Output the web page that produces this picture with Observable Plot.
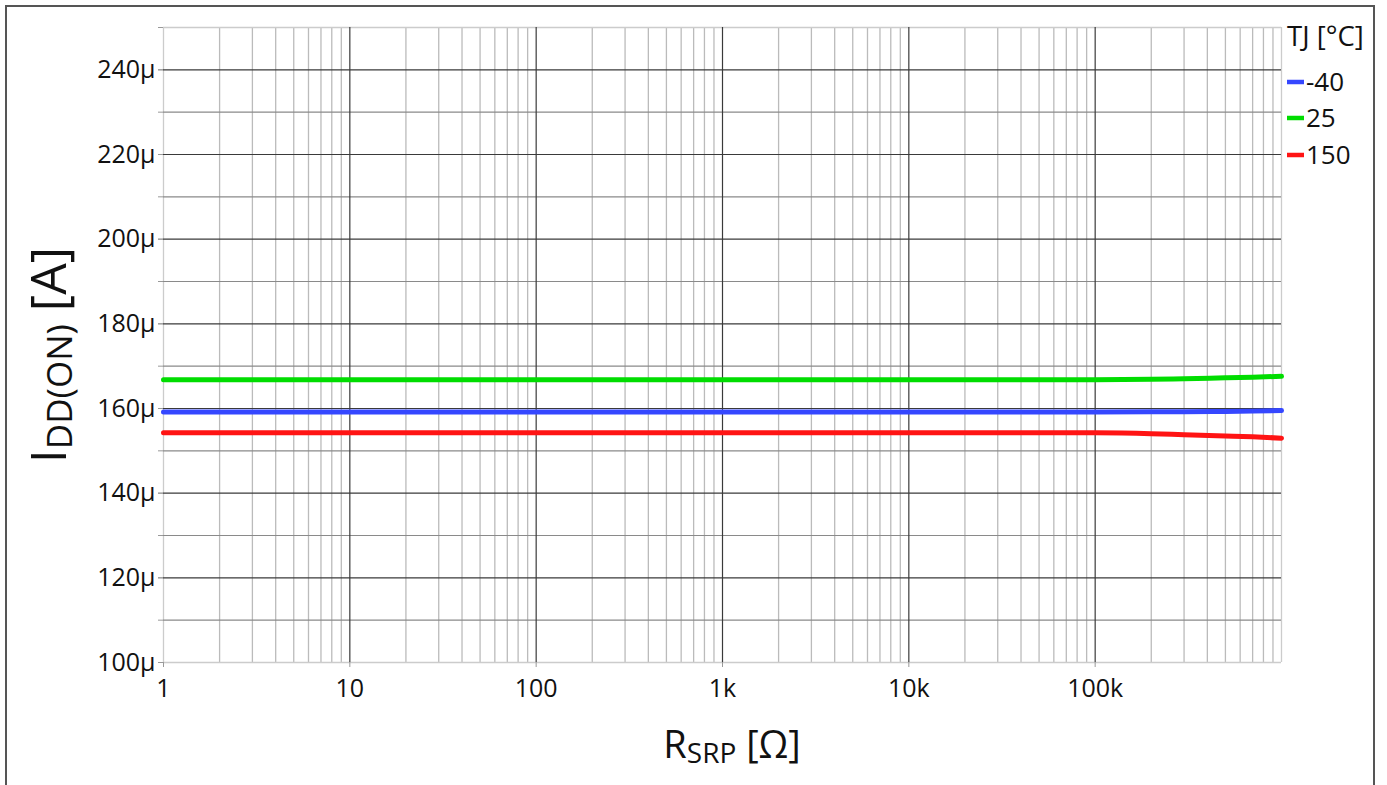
<!DOCTYPE html>
<html>
<head>
<meta charset="utf-8">
<script src="https://cdn.jsdelivr.net/npm/d3@7"></script>
<script src="https://cdn.jsdelivr.net/npm/@observablehq/plot@0.6"></script>
<style>
  html, body { margin: 0; padding: 0; background: #fff; }
  #wrap { position: relative; width: 1387px; height: 785px; overflow: hidden; }
  #border { position: absolute; left: 5px; top: 5px; width: 1370px; height: 800px; border: 2px solid #555; box-sizing: border-box; }
  #chart { position: absolute; left: 0; top: 0; }
</style>
</head>
<body>
<div id="wrap"><div id="border"></div><div id="chart"></div></div>
<script>
// ---- data ----
const resistance = [1, 10, 100, 1000, 10000, 100000, 200000, 300000, 500000, 700000, 1000000];
const iddMinus40 = [159.2, 159.2, 159.2, 159.2, 159.2, 159.2, 159.21, 159.23, 159.3, 159.38, 159.5];
const idd25      = [166.8, 166.8, 166.8, 166.8, 166.82, 166.82, 166.9, 167.05, 167.25, 167.4, 167.6];
const idd150     = [154.3, 154.3, 154.3, 154.3, 154.3, 154.25, 154.05, 153.8, 153.5, 153.3, 153.0];
const seriesNames = ["-40", "25", "150"];
const seriesColors = ["#3547ff", "#00dd00", "#ff1414"];
const seriesValues = [iddMinus40, idd25, idd150];

const xTickValues = [1, 10, 100, 1000, 10000, 100000];
const xTickLabels = ["1", "10", "100", "1k", "10k", "100k"];
const yLabelValues = [100, 120, 140, 160, 180, 200, 220, 240];
const yAllValues = d3.range(100, 251, 10);
const xDecades = [10, 100, 1000, 10000, 100000];
const xEdges = [1, 1000000];
const xMinor = [];
for (let d = 1; d < 1e6; d *= 10) for (let k = 2; k <= 9; k++) xMinor.push(d * k);

const rows = [];
seriesNames.forEach((name, si) => {
  resistance.forEach((r, i) => rows.push({r, v: seriesValues[si][i], s: name}));
});

const yMajorGrid = yLabelValues.filter(v => v !== 100);
const yMinorGrid = yAllValues.filter(v => !yLabelValues.includes(v) && v !== 250);
const yEdges = [100, 250];

const plot = Plot.plot({
  width: 1387,
  height: 785,
  marginLeft: 163,
  marginRight: 106,
  marginTop: 27,
  marginBottom: 123,
  style: {fontFamily: "'Open Sans', 'Noto Sans', sans-serif", fontSize: "25px", color: "#111", background: "transparent"},
  x: {type: "log", domain: [1, 1e6]},
  y: {domain: [100, 250]},
  color: {domain: seriesNames, range: seriesColors},
  marks: [
    Plot.ruleX(xMinor, {stroke: "#bbb", strokeWidth: 1.3}),
    Plot.ruleX(xEdges, {stroke: "#ccc", strokeWidth: 1.3}),
    Plot.ruleY(yMinorGrid, {stroke: "#8a8a8a", strokeWidth: 1.2}),
    Plot.ruleY(yEdges, {stroke: "#ccc", strokeWidth: 1.3}),
    Plot.ruleY(yMajorGrid, {stroke: "#3a3a3a", strokeWidth: 1.2}),
    Plot.ruleX(xDecades, {stroke: "#3a3a3a", strokeWidth: 1.2}),
    Plot.axisY({ticks: yAllValues, tickSize: 5, tickPadding: 3, tickFormat: () => "", stroke: "#999", label: null}),
    Plot.axisY({ticks: yLabelValues, tickSize: 5, tickPadding: 3, tickFormat: d => d + "μ", stroke: "#999", label: null}),
    Plot.axisX({ticks: xTickValues, tickSize: 5, tickPadding: 12, tickFormat: (d, i) => xTickLabels[xTickValues.indexOf(d)], stroke: "#999", label: null}),
    Plot.line(rows, {x: "r", y: "v", z: "s", stroke: "s", strokeWidth: 5, curve: "monotone-x"})
  ]
});
document.getElementById("chart").appendChild(plot);

const svg = d3.select(plot);
// y axis title with subscript
const yt = svg.append("text")
  .attr("transform", "translate(66,355) rotate(-90)")
  .attr("text-anchor", "middle")
  .attr("fill", "#111")
  .style("font-size", "50px");
yt.append("tspan").text("I");
yt.append("tspan").attr("dy", 6).style("font-size", "35px").text("DD(ON)");
yt.append("tspan").attr("dy", -6).text(" [A]");

// x axis title with subscript
const xt = svg.append("text")
  .attr("x", 732).attr("y", 758)
  .attr("text-anchor", "middle")
  .attr("fill", "#111")
  .style("font-size", "38px");
xt.append("tspan").text("R");
xt.append("tspan").attr("dy", 5).style("font-size", "28px").text("SRP");
xt.append("tspan").attr("dy", -5).text(" [Ω]");

// legend
svg.append("text").attr("x", 1287).attr("y", 46).attr("fill", "#111")
  .attr("text-anchor", "start")
  .style("font-size", "27.5px").text("TJ [°C]");
const legendY = [82, 118, 155];
seriesNames.forEach((name, i) => {
  svg.append("line").attr("x1", 1287).attr("x2", 1304)
    .attr("y1", legendY[i]).attr("y2", legendY[i])
    .attr("stroke", seriesColors[i]).attr("stroke-width", 4.5);
  svg.append("text").attr("x", 1306).attr("y", legendY[i]).attr("dy", "0.36em")
    .attr("text-anchor", "start")
    .attr("fill", "#111").style("font-size", "26px").text(name);
});
</script>
</body>
</html>
